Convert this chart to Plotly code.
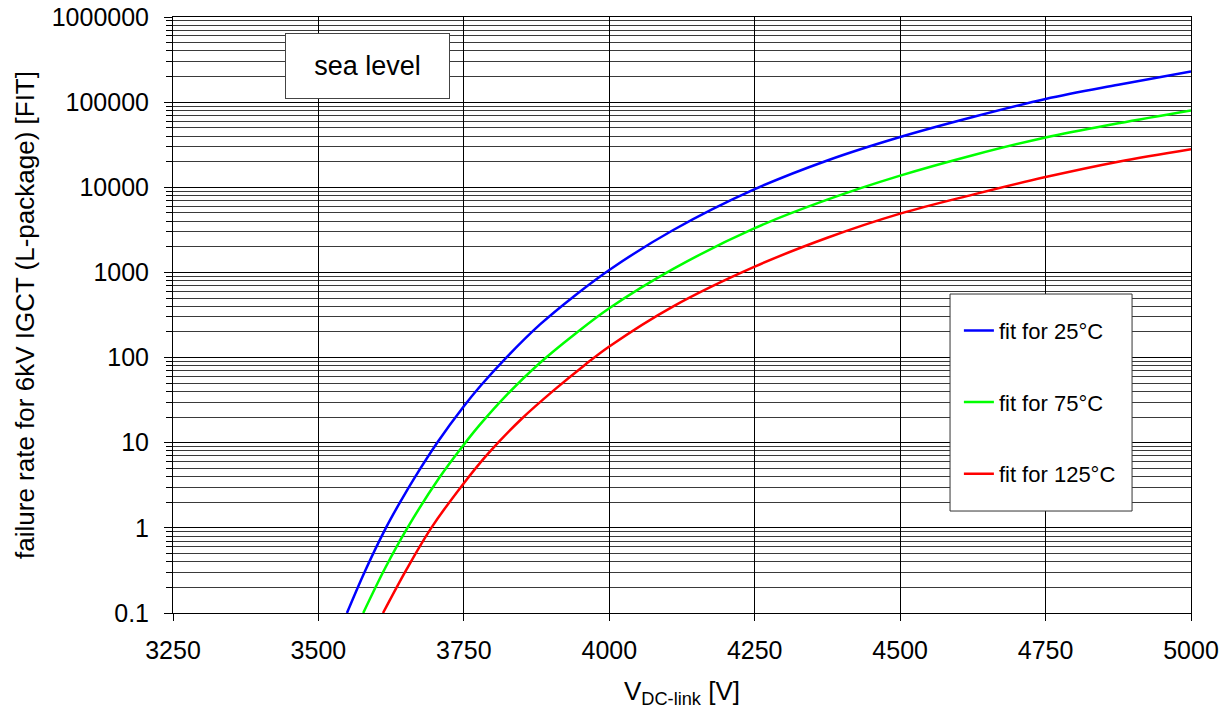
import plotly.graph_objects as go

# ---- data ----
x_25 = [3549, 3580, 3616, 3643, 3666, 3705, 3750, 3778, 3823, 3881, 3940, 4000,
        4110, 4250, 4376, 4500, 4625, 4750, 4875, 5000]
y_25 = [0.1, 0.31, 1, 2.15, 3.95, 10.2, 26.8, 46, 100, 245, 530, 1070,
        3150, 9500, 20800, 39000, 67000, 109000, 160000, 229000]

x_75 = [3577, 3615, 3653, 3708, 3750, 3778, 3823, 3881, 3940, 4000, 4110, 4250,
        4376, 4500, 4625, 4750, 4875, 5000]
y_75 = [0.1, 0.34, 1, 3.9, 9.5, 16.4, 36, 87, 187, 380, 1100, 3310,
        7200, 13700, 23800, 38500, 56500, 80000]

x_125 = [3611, 3652, 3694, 3750, 3792, 3849, 3906, 3958, 4000, 4110, 4250, 4376,
         4500, 4625, 4750, 4875, 5000]
y_125 = [0.1, 0.33, 1, 3.35, 7.5, 19, 42, 82, 135, 400, 1170, 2570,
         4900, 8200, 13200, 20000, 28000]

series_names = ["fit for 25°C", "fit for 75°C", "fit for 125°C"]
series_colors = ["#0000FF", "#00FF00", "#FF0000"]

x_ticks = [3250, 3500, 3750, 4000, 4250, 4500, 4750, 5000]
y_tickvals = [0.1, 1, 10, 100, 1000, 10000, 100000, 1000000]
y_ticktext = ["0.1", "1", "10", "100", "1000", "10000", "100000", "1000000"]

FONT = "Arial, Liberation Sans, sans-serif"

fig = go.Figure()
for xs, ys, name, col in zip([x_25, x_75, x_125], [y_25, y_75, y_125],
                             series_names, series_colors):
    fig.add_trace(go.Scatter(x=xs, y=ys, mode="lines", name=name,
                             legendgroup=name,
                             line=dict(color=col, width=2.5, shape="spline",
                                       smoothing=1.0)))

# legend frame (white box hiding grid)
fig.add_shape(type="rect", xref="paper", yref="paper",
              x0=0.7633, x1=0.9421, y0=0.1711, y1=0.5352,
              fillcolor="white", line=dict(color="#333333", width=1),
              layer="above")

fig.add_annotation(text="sea level", xref="paper", yref="paper",
                   x=0.191, y=0.918, xanchor="center", yanchor="middle",
                   showarrow=False, width=163, height=64,
                   bgcolor="white", bordercolor="#444444", borderwidth=1,
                   borderpad=0, font=dict(family=FONT, size=27, color="black"))

fig.update_layout(
    width=1232, height=714,
    margin=dict(l=173, r=41, t=17, b=101, autoexpand=False),
    paper_bgcolor="white", plot_bgcolor="white",
    font=dict(family=FONT, color="black"),
    showlegend=True,
    legend=dict(x=0.772, y=0.509, xanchor="left", yanchor="top",
                bgcolor="rgba(0,0,0,0)", borderwidth=0,
                font=dict(family=FONT, size=22, color="black"),
                tracegroupgap=40, itemwidth=30),
)

fig.update_xaxes(
    range=[3250, 5000], tickvals=x_ticks, ticktext=[str(v) for v in x_ticks],
    showgrid=True, gridcolor="black", gridwidth=1,
    showline=True, linecolor="black", linewidth=1, mirror=True,
    ticks="outside", ticklen=7, tickcolor="black", ticklabelstandoff=8,
    tickfont=dict(family=FONT, size=25, color="black"),
    zeroline=False, automargin=False,
    title=dict(text="V<sub>DC-link</sub> [V]",
               font=dict(family=FONT, size=26, color="black"), standoff=18),
)

fig.update_yaxes(
    type="log", range=[-1, 6], tickvals=y_tickvals, ticktext=y_ticktext,
    showgrid=True, gridcolor="black", gridwidth=1,
    showline=True, linecolor="black", linewidth=1, mirror=True,
    ticks="outside", ticklen=8, tickcolor="black", ticklabelstandoff=10,
    tickfont=dict(family=FONT, size=25, color="black"),
    minor=dict(dtick="D1", showgrid=True, gridcolor="#3a3a3a", gridwidth=1,
               ticks="outside", ticklen=6, tickcolor="black"),
    zeroline=False, automargin=False,
    title=dict(text="failure rate for 6kV IGCT (L-package) [FIT]",
               font=dict(family=FONT, size=26, color="black"), standoff=9),
)

fig.write_html("out.html")
